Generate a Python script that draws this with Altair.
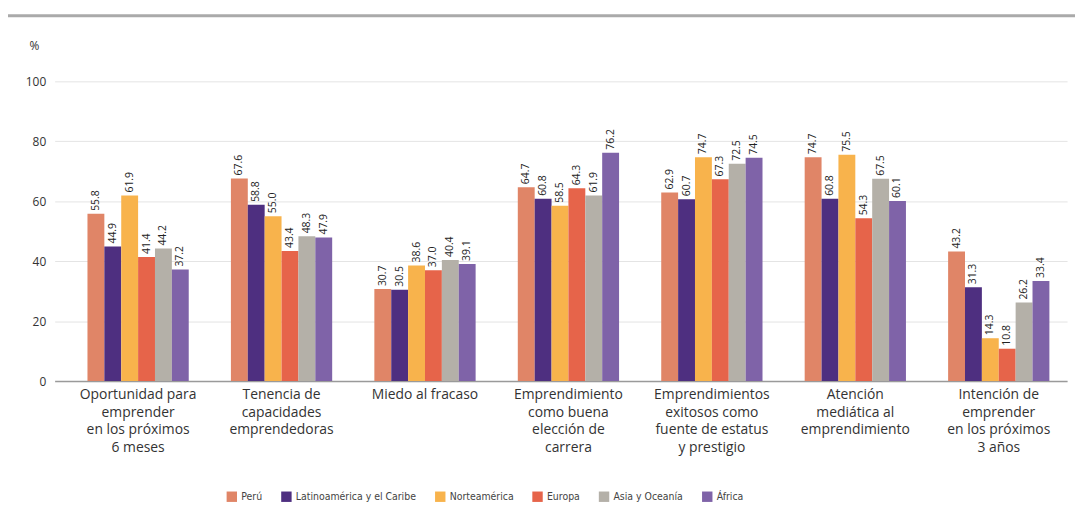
import altair as alt
import pandas as pd

categories = [
    "Oportunidad para\nemprender\nen los próximos\n6 meses",
    "Tenencia de\ncapacidades\nemprendedoras",
    "Miedo al fracaso",
    "Emprendimiento\ncomo buena\nelección de\ncarrera",
    "Emprendimientos\nexitosos como\nfuente de estatus\ny prestigio",
    "Atención\nmediática al\nemprendimiento",
    "Intención de\nemprender\nen los próximos\n3 años",
]
regions = ["Perú", "Latinoamérica y el Caribe", "Norteamérica", "Europa", "Asia y Oceanía", "África"]
peru = [55.8, 67.6, 30.7, 64.7, 62.9, 74.7, 43.2]
latam = [44.9, 58.8, 30.5, 60.8, 60.7, 60.8, 31.3]
norte = [61.9, 55.0, 38.6, 58.5, 74.7, 75.5, 14.3]
europa = [41.4, 43.4, 37.0, 64.3, 67.3, 54.3, 10.8]
asia = [44.2, 48.3, 40.4, 61.9, 72.5, 67.5, 26.2]
africa = [37.2, 47.9, 39.1, 76.2, 74.5, 60.1, 33.4]
colors = ["#E08567", "#4E2F80", "#F8B34C", "#E6644A", "#B4B0A8", "#7F63A8"]
y_ticks = [0, 20, 40, 60, 80, 100]

series = [peru, latam, norte, europa, asia, africa]
rows = []
for reg, vals in zip(regions, series):
    for cat, v in zip(categories, vals):
        rows.append({"categoria": cat, "region": reg, "valor": v})
df = pd.DataFrame(rows)

FONT = "Open Sans"
NARROW = "'DejaVu Sans Condensed', 'Roboto', sans-serif"

base = alt.Chart(df).encode(
    x=alt.X(
        "categoria:N",
        sort=categories,
        scale=alt.Scale(paddingInner=0.294, paddingOuter=0.176, align=0.65),
        axis=alt.Axis(
            title=None,
            labelAngle=0,
            labelExpr="split(datum.label, '\\n')",
            labelFont=FONT,
            labelFontSize=14,
            labelLineHeight=17.5,
            labelColor="#333333",
            labelPadding=7,
            labelBaseline="top",
            labelLimit=300,
            ticks=False,
            grid=False,
            domainColor="#9a9a9a",
            domainWidth=1.5,
        ),
    ),
    xOffset=alt.XOffset("region:N", sort=regions, scale=alt.Scale(paddingInner=0, paddingOuter=0)),
    y=alt.Y(
        "valor:Q",
        scale=alt.Scale(domain=[0, 100]),
        axis=alt.Axis(
            values=y_ticks,
            title="%",
            titleAngle=0,
            titleX=-21,
            titleY=-36,
            titleAlign="center",
            titleBaseline="middle",
            titleFontWeight="normal",
            titleFont=FONT,
            titleFontSize=12,
            titleColor="#333333",
            domain=False,
            ticks=False,
            labelPadding=9,
            labelFont=FONT,
            labelFontSize=12,
            labelColor="#333333",
            gridColor="#e4e4e4",
            gridWidth=1,
        ),
    ),
)

bars = base.mark_bar().encode(
    color=alt.Color(
        "region:N",
        sort=regions,
        scale=alt.Scale(domain=regions, range=colors),
        legend=alt.Legend(
            title=None,
            orient="none",
            direction="horizontal",
            legendX=173,
            legendY=413,
            symbolType="square",
            symbolSize=110,
            symbolStrokeWidth=0,
            symbolOpacity=1,
            labelFont=NARROW,
            labelFontSize=10.5,
            labelColor="#444444",
            columnPadding=18,
        ),
    )
)

labels = base.mark_text(
    angle=270, align="left", baseline="middle", dx=3, fontSize=10.5, font=FONT, color="#222222"
).encode(text=alt.Text("valor:Q", format=".1f"))

top_rule = alt.Chart(alt.Data(values=[{}])).mark_rule(color="#aaaaaa", strokeWidth=3).encode(
    x=alt.value(-50), x2=alt.value(1030), y=alt.value(-66)
)

chart = alt.layer(bars, labels, top_rule).properties(
    width=1020,
    height=302,
    autosize=alt.AutoSizeParams(type="none"),
    padding={"left": 47, "top": 72, "right": 8, "bottom": 130},
).configure_view(stroke=None)

chart.save("out.html", embed_options={"renderer": "svg", "actions": False})
